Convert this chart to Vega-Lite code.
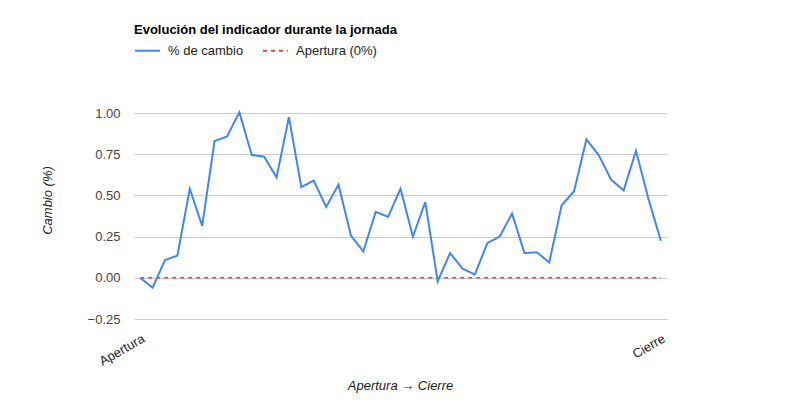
{
  "$schema": "https://vega.github.io/schema/vega-lite/v6.json",
  "width": 533,
  "height": 206,
  "autosize": {"type": "none"},
  "padding": {"left": 134, "top": 113, "right": 133, "bottom": 81},
  "background": "white",
  "title": {
    "text": "Evolución del indicador durante la jornada",
    "anchor": "start",
    "frame": "group",
    "fontSize": 13,
    "fontWeight": "bold",
    "font": "Liberation Sans",
    "color": "#000000",
    "offset": 0
  },
  "datasets": {
    "cambio": [
      {"t": 0, "v": 0, "serie": "% de cambio"},
      {"t": 1, "v": -0.06, "serie": "% de cambio"},
      {"t": 2, "v": 0.107, "serie": "% de cambio"},
      {"t": 3, "v": 0.135, "serie": "% de cambio"},
      {"t": 4, "v": 0.54, "serie": "% de cambio"},
      {"t": 5, "v": 0.315, "serie": "% de cambio"},
      {"t": 6, "v": 0.83, "serie": "% de cambio"},
      {"t": 7, "v": 0.857, "serie": "% de cambio"},
      {"t": 8, "v": 1.004, "serie": "% de cambio"},
      {"t": 9, "v": 0.745, "serie": "% de cambio"},
      {"t": 10, "v": 0.735, "serie": "% de cambio"},
      {"t": 11, "v": 0.61, "serie": "% de cambio"},
      {"t": 12, "v": 0.975, "serie": "% de cambio"},
      {"t": 13, "v": 0.55, "serie": "% de cambio"},
      {"t": 14, "v": 0.59, "serie": "% de cambio"},
      {"t": 15, "v": 0.43, "serie": "% de cambio"},
      {"t": 16, "v": 0.565, "serie": "% de cambio"},
      {"t": 17, "v": 0.256, "serie": "% de cambio"},
      {"t": 18, "v": 0.16, "serie": "% de cambio"},
      {"t": 19, "v": 0.4, "serie": "% de cambio"},
      {"t": 20, "v": 0.37, "serie": "% de cambio"},
      {"t": 21, "v": 0.54, "serie": "% de cambio"},
      {"t": 22, "v": 0.25, "serie": "% de cambio"},
      {"t": 23, "v": 0.46, "serie": "% de cambio"},
      {"t": 24, "v": -0.022, "serie": "% de cambio"},
      {"t": 25, "v": 0.15, "serie": "% de cambio"},
      {"t": 26, "v": 0.056, "serie": "% de cambio"},
      {"t": 27, "v": 0.02, "serie": "% de cambio"},
      {"t": 28, "v": 0.21, "serie": "% de cambio"},
      {"t": 29, "v": 0.25, "serie": "% de cambio"},
      {"t": 30, "v": 0.39, "serie": "% de cambio"},
      {"t": 31, "v": 0.15, "serie": "% de cambio"},
      {"t": 32, "v": 0.155, "serie": "% de cambio"},
      {"t": 33, "v": 0.093, "serie": "% de cambio"},
      {"t": 34, "v": 0.44, "serie": "% de cambio"},
      {"t": 35, "v": 0.525, "serie": "% de cambio"},
      {"t": 36, "v": 0.84, "serie": "% de cambio"},
      {"t": 37, "v": 0.743, "serie": "% de cambio"},
      {"t": 38, "v": 0.595, "serie": "% de cambio"},
      {"t": 39, "v": 0.53, "serie": "% de cambio"},
      {"t": 40, "v": 0.77, "serie": "% de cambio"},
      {"t": 41, "v": 0.48, "serie": "% de cambio"},
      {"t": 42, "v": 0.225, "serie": "% de cambio"}
    ],
    "apertura": [
      {"t": 0, "v": 0, "serie": "Apertura (0%)"},
      {"t": 42, "v": 0, "serie": "Apertura (0%)"}
    ]
  },
  "encoding": {
    "x": {
      "field": "t",
      "type": "quantitative",
      "scale": {"domain": [-0.5, 42.5], "nice": false, "zero": false},
      "axis": {
        "title": "Apertura → Cierre",
        "values": [0, 42],
        "labelExpr": "datum.value == 0 ? 'Apertura' : 'Cierre'",
        "labelAngle": -30,
        "labelAlign": "right",
        "labelBaseline": "top",
        "labelPadding": 13,
        "labelFlush": false,
        "labelOverlap": false,
        "labelFontSize": 13,
        "labelColor": "#222222",
        "grid": false,
        "ticks": false,
        "domain": false,
        "titleFontSize": 13,
        "titleFontStyle": "italic",
        "titleFontWeight": "normal",
        "titleColor": "#222222",
        "titleX": 266,
        "titleY": 66,
        "titleBaseline": "middle",
        "titleAlign": "center"
      }
    },
    "y": {
      "field": "v",
      "type": "quantitative",
      "scale": {"domain": [-0.25, 1.0], "nice": false, "zero": false},
      "axis": {
        "title": "Cambio (%)",
        "values": [-0.25, 0, 0.25, 0.5, 0.75, 1.0],
        "format": ".2f",
        "labelFontSize": 13,
        "labelColor": "#444444",
        "labelPadding": 14,
        "ticks": false,
        "domain": false,
        "grid": true,
        "gridColor": "#cccccc",
        "gridWidth": 1,
        "titleFontSize": 13,
        "titleFontStyle": "italic",
        "titleFontWeight": "normal",
        "titleColor": "#222222",
        "titleX": -87,
        "titleY": 87,
        "titleAngle": -90,
        "titleBaseline": "middle",
        "titleAlign": "center"
      }
    },
    "color": {
      "field": "serie",
      "type": "nominal",
      "scale": {"domain": ["% de cambio", "Apertura (0%)"], "range": ["#4285F4", "#EA4335"]},
      "legend": {
        "title": null,
        "orient": "none",
        "legendX": 0,
        "legendY": -76,
        "direction": "horizontal",
        "symbolType": "stroke",
        "symbolSize": 625,
        "symbolStrokeWidth": 2,
        "labelOffset": 7,
        "labelFontSize": 13,
        "labelColor": "#222222",
        "columnPadding": 15,
        "padding": 0
      }
    },
    "strokeDash": {
      "field": "serie",
      "type": "nominal",
      "scale": {"domain": ["% de cambio", "Apertura (0%)"], "range": [[1, 0], [4, 4]]},
      "legend": {
        "title": null,
        "orient": "none",
        "legendX": 0,
        "legendY": -76,
        "direction": "horizontal",
        "symbolType": "stroke",
        "symbolSize": 625,
        "symbolStrokeWidth": 2,
        "labelOffset": 7,
        "labelFontSize": 13,
        "labelColor": "#222222",
        "columnPadding": 15,
        "padding": 0
      }
    }
  },
  "layer": [
    {
      "mark": {"type": "rule", "color": "#333333", "strokeWidth": 1},
      "encoding": {"y": {"datum": 0}, "x": null, "color": null, "strokeDash": null}
    },
    {
      "data": {"name": "apertura"},
      "mark": {"type": "line", "strokeWidth": 1.5}
    },
    {
      "data": {"name": "cambio"},
      "mark": {"type": "line", "strokeWidth": 2}
    }
  ],
  "config": {
    "font": "Liberation Sans",
    "view": {"stroke": null},
    "legend": {"labelFont": "Liberation Sans"},
    "axis": {"labelFont": "Liberation Sans", "titleFont": "Liberation Sans"}
  }
}
